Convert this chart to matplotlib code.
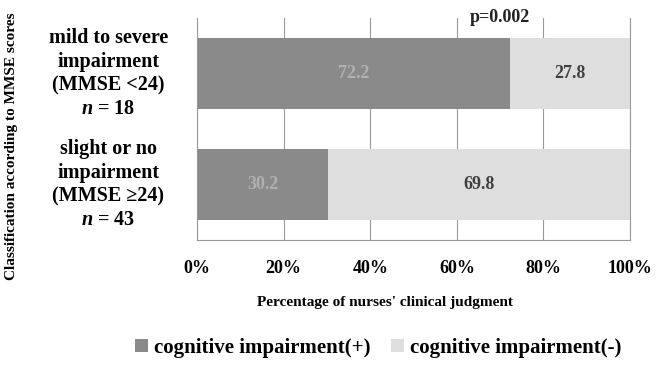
import matplotlib.pyplot as plt
import numpy as np

plt.rcParams['font.family'] = ['Liberation Serif', 'DejaVu Serif']
plt.rcParams['font.weight'] = 'bold'
plt.rcParams['mathtext.fontset'] = 'custom'
plt.rcParams['mathtext.it'] = 'Liberation Serif:italic:bold'
plt.rcParams['mathtext.rm'] = 'Liberation Serif:bold'

## data
categories = ['slight or no\nimpairment\n(MMSE \u226524)\n$n$ = 43',
              'mild to severe\nimpairment\n(MMSE <24)\n$n$ = 18']
positive = [30.2, 72.2]
negative = [69.8, 27.8]
series_names = ['cognitive impairment(+)', 'cognitive impairment(-)']
xticks = [0, 20, 40, 60, 80, 100]

## plot
fig = plt.figure(figsize=(6.57, 3.66), dpi=100)
ax = fig.add_axes([0.300, 0.344, 0.659, 0.607])

y = np.arange(len(categories))
dark = '#8a8a8a'
light = '#dedede'
b1 = ax.barh(y, positive, height=0.64, color=dark, label=series_names[0], zorder=2)
b2 = ax.barh(y, negative, left=positive, height=0.64, color=light, label=series_names[1], zorder=2)

for i in range(len(categories)):
    ax.text(positive[i] / 2, y[i], f'{positive[i]:.1f}', ha='center', va='center',
            fontsize=13, color='#b0b0b0', fontweight='bold', zorder=3)
    ax.text(positive[i] + negative[i] / 2, y[i], f'{negative[i]:.1f}', ha='center', va='center',
            fontsize=13, color='#404040', fontweight='bold', zorder=3)
    # category labels, centred left of the axis
    ax.text(-0.205, y[i], categories[i], transform=ax.get_yaxis_transform(),
            ha='center', va='center', fontsize=14.5, fontweight='bold', linespacing=1.25)

ax.text(70, 1.5, 'p=0.002', ha='center', va='center', fontsize=13, fontweight='bold',
        color='#222222', zorder=3)

ax.set_xlim(0, 100)
ax.set_ylim(-0.5, 1.5)
ax.set_xticks(xticks)
ax.set_xticklabels([f'{t}%' for t in xticks], fontsize=13, fontweight='bold')
ax.set_yticks([])
ax.tick_params(axis='x', length=0, pad=14)
ax.grid(axis='x', color='#999999', linewidth=0.8, zorder=0)
ax.spines['top'].set_visible(False)
for s in ['left', 'right', 'bottom']:
    ax.spines[s].set_color('#999999')
    ax.spines[s].set_linewidth(0.8)

ax.set_xlabel("Percentage of nurses' clinical judgment", fontsize=11, fontweight='bold')
ax.xaxis.set_label_coords(0.434, -0.25)
fig.text(0.018, 0.60, 'Classification according to MMSE scores', rotation=90,
         ha='center', va='center', fontsize=11, fontweight='bold')

fig.legend(handles=[b1, b2], loc='center', bbox_to_anchor=(0.576, 0.05), ncol=2, frameon=False,
           fontsize=15, handlelength=0.6, handleheight=0.6, handletextpad=0.3, columnspacing=1.0)

fig.savefig('out.png', dpi=100)
